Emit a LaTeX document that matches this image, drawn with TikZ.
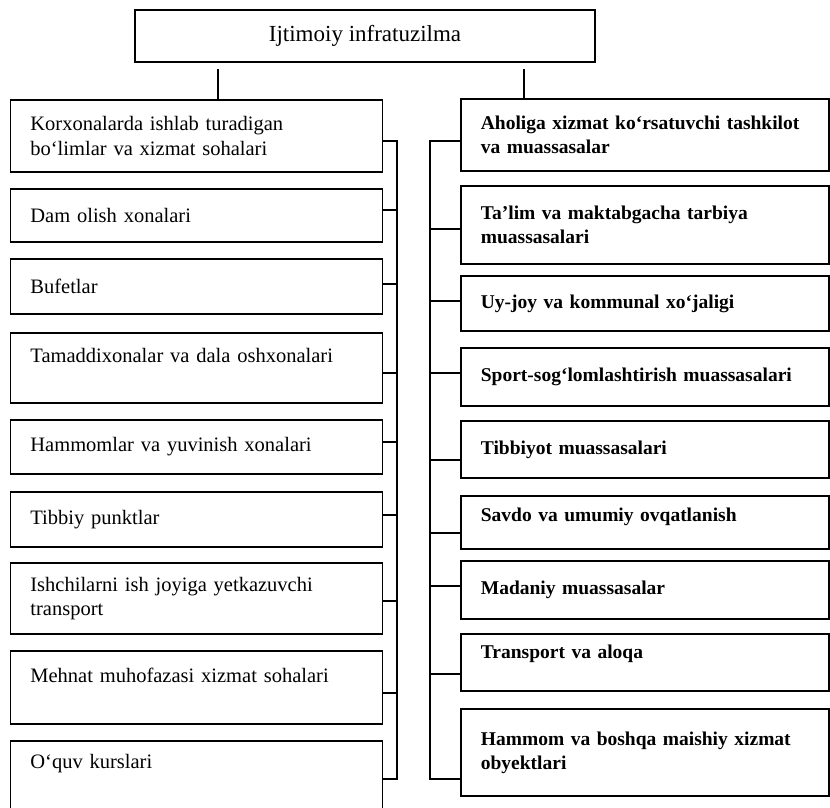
\documentclass[tikz,border=0pt]{standalone}
\usepackage{fontspec}
\setmainfont{Liberation Serif}
\usepackage{tikz}

\begin{document}
\begin{tikzpicture}[
    x=1pt, y=-1pt,
    line width=1.8pt,
    box/.style={draw, rectangle, anchor=north west, align=left, inner xsep=20pt, inner ysep=0pt},
    lbox/.style={box, minimum width=372pt, text width=332pt, font=\fontsize{20.5}{24.5}\selectfont},
    rbox/.style={box, minimum width=368pt, text width=328pt, font=\fontsize{19.5}{24}\selectfont\bfseries},
    head/.style={draw, rectangle, minimum width=460pt, minimum height=52pt, font=\fontsize{23}{27}\selectfont},
    link/.style={line width=2pt}
]
    \useasboundingbox (0,0) rectangle (830,808);
    \clip (0,0) rectangle (830,808);

    % Title
    \node[head] (top) at (365,36) {Ijtimoiy infratuzilma};

    % Left column
    \node[lbox, minimum height=72pt] (l1) at (9.5,99) {Korxonalarda ishlab turadigan\\bo‘limlar va xizmat sohalari};
    \node[lbox, minimum height=53pt] (l2) at (9.5,188) {Dam olish xonalari};
    \node[lbox, minimum height=55pt] (l3) at (9.5,258) {Bufetlar};
    \node[lbox, minimum height=70pt, text depth=25pt] (l4) at (9.5,332) {Tamaddixonalar va dala oshxonalari};
    \node[lbox, minimum height=54pt] (l5) at (9.5,419) {Hammomlar va yuvinish xonalari};
    \node[lbox, minimum height=55pt] (l6) at (9.5,491) {Tibbiy punktlar};
    \node[lbox, minimum height=71pt] (l7) at (9.5,562) {Ishchilarni ish joyiga yetkazuvchi\\transport};
    \node[lbox, minimum height=73pt, text depth=24pt] (l8) at (9.5,650) {Mehnat muhofazasi xizmat sohalari};
    \node[lbox, minimum height=72pt, text depth=31pt] (l9) at (9.5,740) {O‘quv kurslari};

    % Right column
    \node[rbox, minimum height=72pt] (r1) at (460,98) {Aholiga xizmat ko‘rsatuvchi tashkilot\\va muassasalar};
    \node[rbox, minimum height=78pt] (r2) at (460,185) {Ta’lim va maktabgacha tarbiya\\muassasalari};
    \node[rbox, minimum height=55pt] (r3) at (460,275) {Uy-joy va kommunal xo‘jaligi};
    \node[rbox, minimum height=58pt] (r4) at (460,347) {Sport-sog‘lomlashtirish muassasalari};
    \node[rbox, minimum height=57pt] (r5) at (460,420) {Tibbiyot muassasalari};
    \node[rbox, minimum height=53pt, text depth=16pt] (r6) at (460,495) {Savdo va umumiy ovqatlanish};
    \node[rbox, minimum height=58pt] (r7) at (460,560) {Madaniy muassasalar};
    \node[rbox, minimum height=57pt, text depth=22pt] (r8) at (460,633) {Transport va aloqa};
    \node[rbox, minimum height=87pt] (r9) at (460,708) {Hammom va boshqa maishiy xizmat\\obyektlari};

    % Bus lines
    \coordinate (lbus) at (397,0);
    \coordinate (rbus) at (430,0);

    % Title to columns
    \draw[link, shorten <=6pt] ([xshift=-147pt]top.south) -- ([xshift=-147pt]top.south |- l1.north);
    \draw[link, shorten <=6pt] ([xshift=159pt]top.south) -- ([xshift=159pt]top.south |- r1.north);

    % Left bracket
    \draw[link] ([yshift=-5pt]l1.east) -| ([yshift=-2pt]l9.east -| lbus) -- ([yshift=-2pt]l9.east);
    \foreach \n/\dy in {l2/5.5, l3/2.5, l4/-5, l5/5, l6/4.5, l7/-2.5, l8/-5.5}
        \draw[link] ([yshift=\dy pt]\n.east) -- ([yshift=\dy pt]\n.east -| lbus);

    % Right bracket
    \draw[link] ([yshift=-6pt]r1.west) -| ([yshift=-26.5pt]r9.west -| rbus) -- ([yshift=-26.5pt]r9.west);
    \foreach \n/\dy in {r2/-4, r3/2.5, r4/4, r5/-10.5, r6/-10.5, r7/4, r8/-11.5}
        \draw[link] ([yshift=\dy pt]\n.west) -- ([yshift=\dy pt]\n.west -| rbus);

\end{tikzpicture}
\end{document}
